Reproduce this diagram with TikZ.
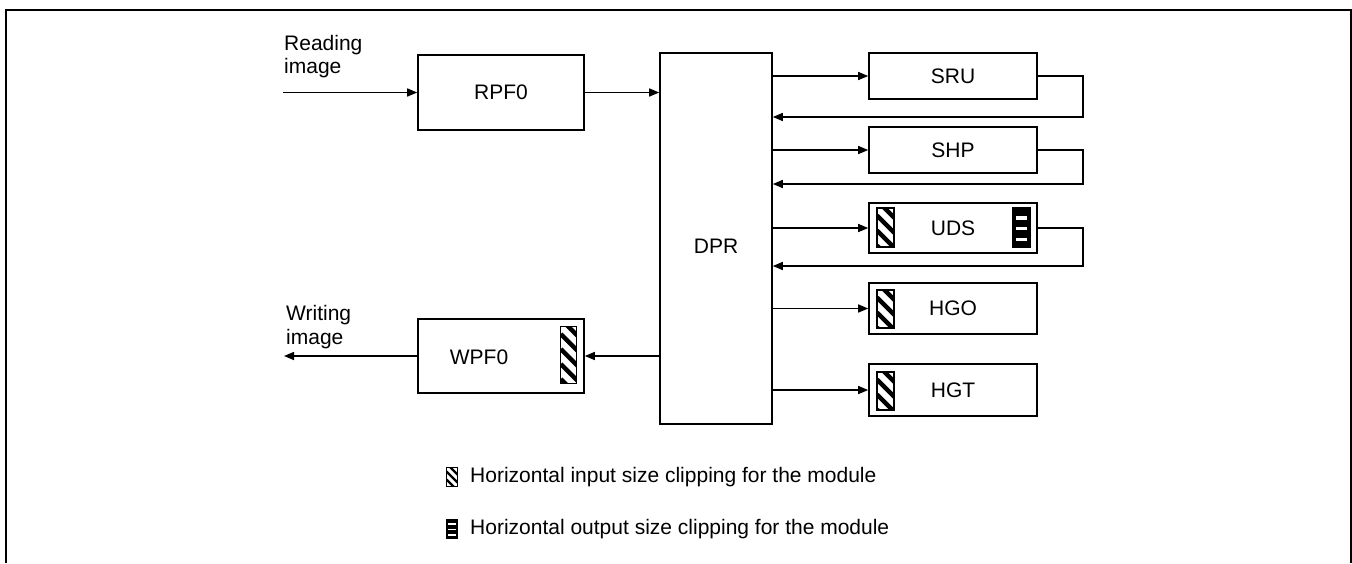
\documentclass[tikz,border=0pt]{standalone}
\usepackage{fontspec}
\setmainfont{Liberation Sans}
\usetikzlibrary{arrows.meta,calc}
\tikzset{
  box/.style={draw, line width=1.6pt, inner sep=0pt, font=\fontsize{21}{24}\selectfont},
  txt/.style={inner sep=0pt, font=\fontsize{21}{23.5}\selectfont},
  arr/.style={line width=1.5pt, -{Triangle[length=10pt,width=8pt]}},
  hatchicon/.style n args={3}{draw, line width=1.1pt, fill=white, inner sep=0pt,
    minimum width=#1, minimum height=#2,
    path picture={
      \foreach \k in {-5,...,8}
        \draw[line width=0.3*#3] ([yshift=-(\k+0.5)*#3]path picture bounding box.north west) -- ++(4*#3,-4*#3);
    }},
  outicon/.style 2 args={draw, line width=1.1pt, fill=black, inner sep=0pt,
    minimum width=#1, minimum height=#2,
    path picture={
      \foreach \f in {0.25,0.53,0.81}
        \fill[white] ([xshift=0.16*#1, yshift=-(\f-0.045)*#2]path picture bounding box.north west)
          rectangle ([xshift=-0.16*#1, yshift=-(\f+0.045)*#2]path picture bounding box.north east);
    }},
}
\begin{document}
\begin{tikzpicture}[x=1pt,y=-1pt]
\useasboundingbox (0,0) rectangle (1352,563);
% frame
\draw[line width=2pt] (6,563) -- (6,10) -- (1351,10) -- (1351,563);

% boxes
\node[box, minimum width=166pt, minimum height=75pt] (rpf) at (501,92.5) {RPF0};
\node[box, minimum width=112pt, minimum height=371pt] (dpr) at (716,238.5) {};
\node[txt] (dprlabel) at (716,246) {DPR};
\node[box, minimum width=168pt, minimum height=46pt] (sru) at (953,76) {SRU};
\node[box, minimum width=168pt, minimum height=46pt] (shp) at (953,150) {SHP};
\node[box, minimum width=168pt, minimum height=50pt] (uds) at (953,228) {UDS};
\node[box, minimum width=168pt, minimum height=51pt] (hgo) at (953,308.5) {HGO};
\node[box, minimum width=168pt, minimum height=52pt] (hgt) at (953,390) {HGT};
\node[box, minimum width=166pt, minimum height=74pt] (wpf) at (501,356) {};
\node[txt] (wpflabel) at (479,357) {WPF0};

% icons
\node[hatchicon={17pt}{39pt}{15pt}] (udsin) at (885.5,227.5) {};
\node[outicon={17pt}{39pt}] (udsout) at (1021.5,227.5) {};
\node[hatchicon={17pt}{38pt}{15pt}] (hgoin) at (885.5,309) {};
\node[hatchicon={17pt}{38pt}{15pt}] (hgtin) at (885.5,391) {};
\node[hatchicon={15.5pt}{57pt}{15pt}] (wpfin) at (568.5,355) {};

% external labels
\node[txt, anchor=west, align=left] (rdlabel) at (284,56.5) {Reading\\image};
\node[txt, anchor=west, align=left] (wrlabel) at (286,327) {Writing\\image};

% connectors
\coordinate (rin) at (283,92.5);
\coordinate (wout) at (284,356);
\draw[arr] (rin) -- (rpf.west);
\draw[arr] (rpf.east) -- (rpf.east -| dpr.west);
\draw[arr] (dpr.west |- wpf.east) -- (wpf.east);
\draw[arr] (wpf.west) -- (wout);

\draw[arr] (dpr.east |- sru.west) -- (sru.west);
\draw[arr] (dpr.east |- shp.west) -- (shp.west);
\draw[arr] (dpr.east |- uds.west) -- (uds.west);
\draw[arr] (dpr.east |- hgo.west) -- (hgo.west);
\draw[arr] (dpr.east |- hgt.west) -- (hgt.west);

\coordinate (f1) at (1083,117);
\coordinate (f2) at (1083,184);
\coordinate (f3) at (1083,266);
\draw[arr] (sru.east) -| (f1) -- (f1 -| dpr.east);
\draw[arr] (shp.east) -| (f2) -- (f2 -| dpr.east);
\draw[arr] (uds.east) -| (f3) -- (f3 -| dpr.east);

% legend
\node[hatchicon={11pt}{19pt}{8pt}] (legin) at (452,477) {};
\node[txt, anchor=west] (legintxt) at (470,477) {Horizontal input size clipping for the module};
\node[outicon={11pt}{19pt}] (legout) at (452,529) {};
\node[txt, anchor=west] (legouttxt) at (470,529) {Horizontal output size clipping for the module};
\end{tikzpicture}
\end{document}
